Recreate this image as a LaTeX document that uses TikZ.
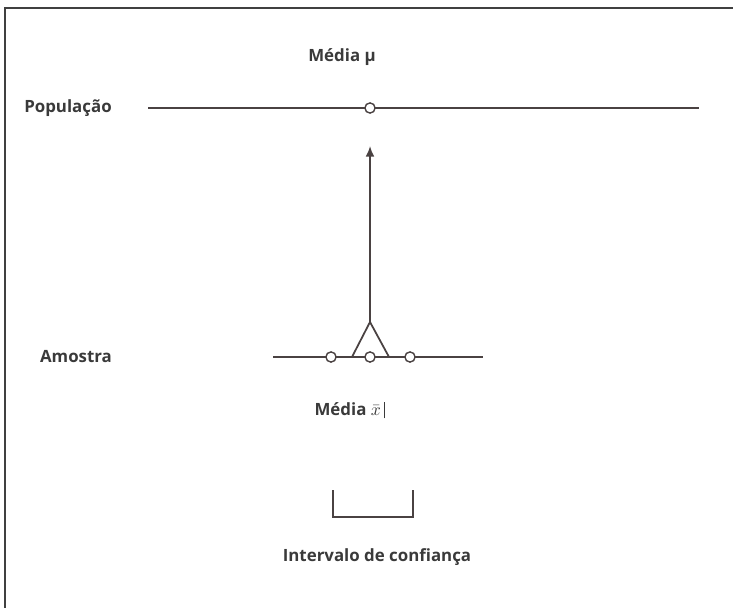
\documentclass[tikz,border=0pt]{standalone}
\usepackage{fontspec}
\setmainfont{Open Sans}
\usetikzlibrary{arrows.meta,positioning}
\definecolor{linegray}{RGB}{74,66,66}
\definecolor{textgray}{RGB}{58,58,58}
\tikzstyle{dot}=[circle,draw=linegray,fill=white,line width=0.8pt,inner sep=0pt,minimum size=5.8pt]
\tikzstyle{txt}=[text=textgray,font=\fontsize{9.6}{11}\selectfont\bfseries,inner sep=0pt]
\tikzstyle{ln}=[draw=linegray,line width=1pt]

\begin{document}
\begin{tikzpicture}[x=0.02cm,y=-0.02cm,>={Latex[length=6pt,width=5pt]}]
    \useasboundingbox (0,0) rectangle (733,608);
    % frame
    \draw[draw=black!75,line width=1.1pt] (5,608) -- (5,8) -- (733,8);

    % population
    \node [txt] (mu)   at (342,57)  {Média μ};
    \node [txt] (pop)  at (68,108)  {População};
    \coordinate (popL) at (148,108);
    \coordinate (popR) at (699,108);
    \path[ln] (popL) -- (popR);
    \node [dot] (pmean) at (370,108) {};

    % sample
    \node [txt] (samp) at (76,357)  {Amostra};
    \coordinate (smpL) at (273,357);
    \coordinate (smpR) at (483,357);
    \coordinate (apex) at (370,322);
    \coordinate (triL) at (352,357);
    \coordinate (triR) at (389,357);
    \coordinate (tip)  at (370,146);
    \path[ln] (smpL) -- (smpR);
    \path[ln] (triL) -- (apex) -- (triR);
    \path[ln,->] (apex) -- (tip);
    \node [dot] (s1) at (331,357) {};
    \node [dot] (s2) at (370,357) {};
    \node [dot] (s3) at (410,357) {};
    \node [txt] (xbar) at (350,410) {Média $\bar{x}$\,\rule[-1.5pt]{1pt}{9.5pt}};

    % interval
    \coordinate (ciTL) at (333,490);
    \coordinate (ciTR) at (413,490);
    \coordinate (ciBL) at (333,517);
    \coordinate (ciBR) at (413,517);
    \path[ln] (ciTL) -- (ciBL) -- (ciBR) -- (ciTR);
    \node [txt] (ci) at (377,557) {Intervalo de confiança};
\end{tikzpicture}
\end{document}
